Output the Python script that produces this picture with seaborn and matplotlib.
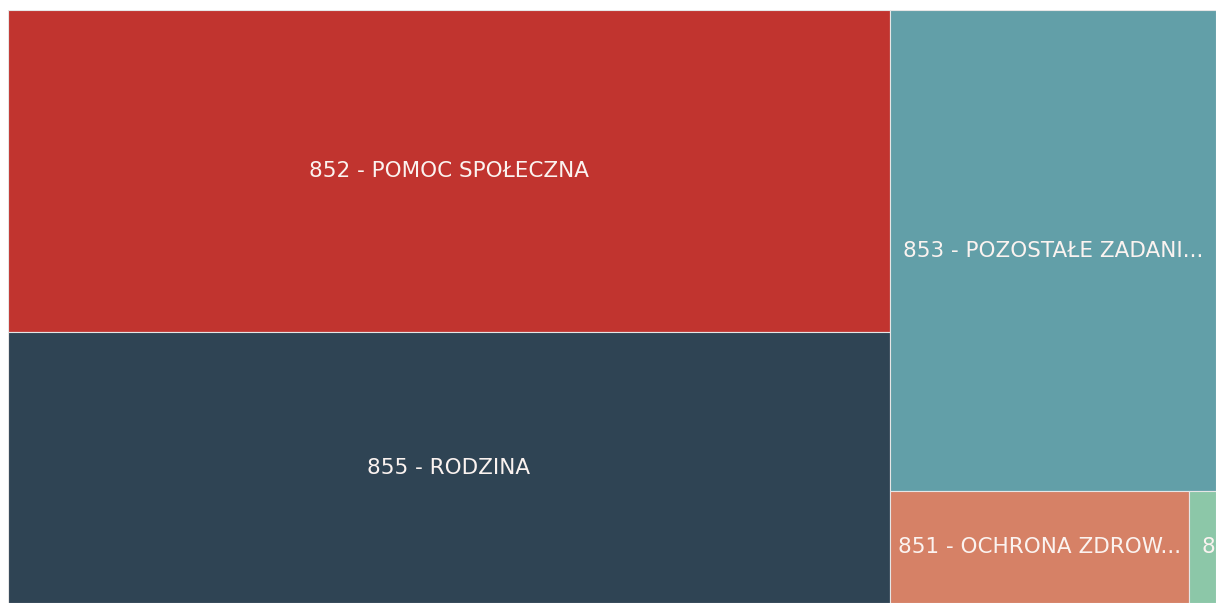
import matplotlib
matplotlib.use("Agg")
import matplotlib.pyplot as plt
from matplotlib.patches import Rectangle
import seaborn as sns

# Budget sections (dział) and their spending, in millions PLN
codes = ["852", "855", "853", "851", "854"]
names = [
    "POMOC SPOŁECZNA",
    "RODZINA",
    "POZOSTAŁE ZADANIA W ZAKRESIE POLITYKI SPOŁECZNEJ",
    "OCHRONA ZDROWIA",
    "EDUKACYJNA OPIEKA WYCHOWAWCZA",
]
values = [28.4, 23.9, 15.7, 3.35, 0.30]
colors = ["#C1342F", "#2F4454", "#629FA8", "#D68166", "#8CC7A8"]

# Tile grouping: two columns, the second one holding a bottom row
groups = [[0, 1], [2, [3, 4]]]

sns.set_theme(style="white")
plt.rcParams["font.family"] = ["DejaVu Sans"]

W, H = 1216, 603
fig = plt.figure(figsize=(W / 100, H / 100), dpi=100)
fig.patch.set_facecolor("white")
ax = fig.add_axes([8 / W, 0, 1 - 8 / W, 1 - 10 / H])
ax.set_xlim(0, 1)
ax.set_ylim(1, 0)
ax.axis("off")


def total(node):
    if isinstance(node, list):
        return sum(total(n) for n in node)
    return values[node]


tiles = []


def layout(node, x, y, w, h, horizontal):
    if not isinstance(node, list):
        tiles.append((node, x, y, w, h))
        return
    s = total(node)
    pos = 0.0
    for child in node:
        frac = total(child) / s
        if horizontal:
            layout(child, x + pos * w, y, frac * w, h, not horizontal)
        else:
            layout(child, x, y + pos * h, w, frac * h, not horizontal)
        pos += frac


layout(groups, 0, 0, 1, 1, True)

fig.canvas.draw()
renderer = fig.canvas.get_renderer()
ax_w_px = ax.get_window_extent().width
pad_px = 8
fs = 15.5

for idx, x, y, w, h in tiles:
    rect = Rectangle((x, y), w, h, facecolor=colors[idx],
                     edgecolor="#E6E6E6", linewidth=0.8)
    ax.add_patch(rect)
    label = f"{codes[idx]} - {names[idx]}"
    avail = w * ax_w_px - 2 * pad_px
    t = ax.text(x + w / 2, y + h / 2, label, ha="center", va="center",
                color="#FBF3F0", fontsize=fs)
    tw = t.get_window_extent(renderer).width
    if tw > avail:
        text = label
        while len(text) > 1:
            text = text[:-1].rstrip()
            t.set_text(text + "...")
            if t.get_window_extent(renderer).width <= avail:
                break
        if t.get_window_extent(renderer).width > avail:
            # too narrow: left-aligned and clipped to the tile
            t.set_text(label)
            t.set_ha("left")
            t.set_x(x + 13 / ax_w_px)
            t.set_clip_path(rect)

fig.savefig("out.png", dpi=100, facecolor="white")
